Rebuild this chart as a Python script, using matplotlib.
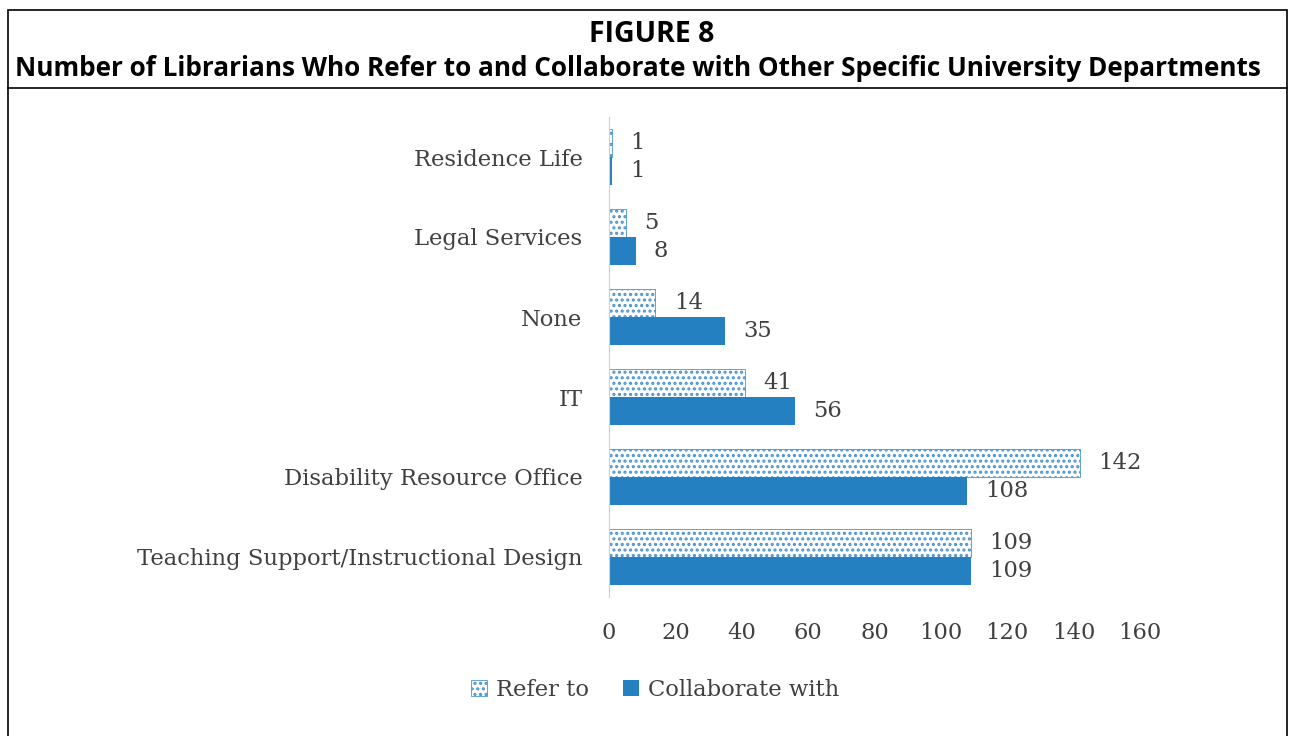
import matplotlib.pyplot as plt
from matplotlib.patches import Rectangle
from matplotlib.lines import Line2D
import numpy as np

categories = ["Teaching Support/Instructional Design", "Disability Resource Office",
              "IT", "None", "Legal Services", "Residence Life"]
refer_to = [109, 142, 41, 14, 5, 1]
collaborate_with = [109, 108, 56, 35, 8, 1]
xticks = [0, 20, 40, 60, 80, 100, 120, 140, 160]

blue = '#2580C1'
text_col = '#404040'
serif = 'DejaVu Serif'
fs = 16.3

plt.rcParams['hatch.linewidth'] = 1.5

fig = plt.figure(figsize=(12.96, 7.36), dpi=100)
ax = fig.add_axes([609 / 1296, 1 - 597 / 736, 531 / 1296, 480 / 736])

y = np.arange(len(categories))
h = 0.35
ax.barh(y + h / 2, refer_to, height=h, color='white', edgecolor='#4a94cf',
        hatch='...', linewidth=0.6, label='Refer to')
ax.barh(y - h / 2, collaborate_with, height=h, color=blue, label='Collaborate with')

for i in range(len(categories)):
    ax.text(refer_to[i] + 5.5, y[i] + h / 2, str(refer_to[i]), va='center', ha='left',
            fontsize=fs, family=serif, color=text_col)
    ax.text(collaborate_with[i] + 5.5, y[i] - h / 2, str(collaborate_with[i]), va='center',
            ha='left', fontsize=fs, family=serif, color=text_col)

ax.set_xlim(0, 160)
ax.set_ylim(-0.5, len(categories) - 0.5)
ax.set_yticks(y)
ax.set_yticklabels(categories, fontsize=fs, family=serif, color=text_col)
ax.set_xticks(xticks)
ax.set_xticklabels([str(t) for t in xticks], fontsize=fs, family=serif, color=text_col)
ax.tick_params(axis='y', length=0, pad=19)
ax.tick_params(axis='x', length=0, pad=18)
for s in ['top', 'right', 'bottom']:
    ax.spines[s].set_visible(False)
ax.spines['left'].set_color('#d0d0d0')

leg = ax.legend(loc='center', bbox_to_anchor=(655 / 1296, 1 - 690 / 736),
                bbox_transform=fig.transFigure, ncol=2, frameon=False,
                prop={'family': serif, 'size': fs}, handlelength=0.7, handleheight=0.7,
                columnspacing=1.5, handletextpad=0.4)
for t in leg.get_texts():
    t.set_color(text_col)

# frame around the figure
fig.add_artist(Rectangle((8 / 1296, -0.05), 1279 / 1296, 1.05 - 10 / 736, transform=fig.transFigure,
                         fill=False, edgecolor='black', linewidth=1.2))
fig.add_artist(Line2D([8 / 1296, 1287 / 1296], [1 - 88 / 736] * 2, transform=fig.transFigure,
                      color='black', linewidth=1.2))

fig.text(652 / 1296, 1 - 35 / 736, "FIGURE 8", ha='center', va='center',
         fontsize=20.5, fontweight='bold', family='Open Sans')
fig.text(638 / 1296, 1 - 69 / 736,
         "Number of Librarians Who Refer to and Collaborate with Other Specific University Departments",
         ha='center', va='center', fontsize=18.8, fontweight='bold', family='Open Sans')

fig.savefig('out.png', dpi=100)
